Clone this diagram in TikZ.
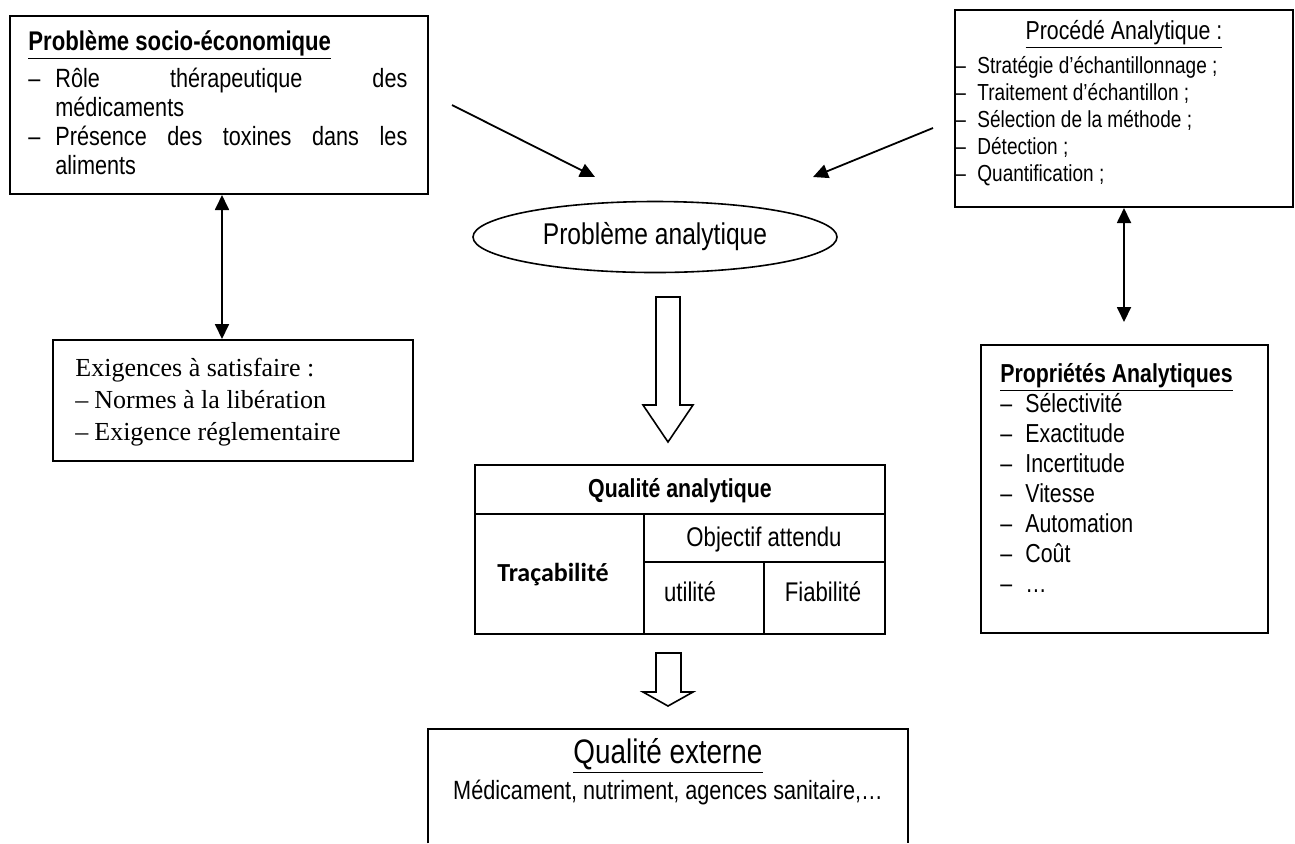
\documentclass[tikz,border=0pt]{standalone}
\usepackage{fontspec}
\setmainfont{Liberation Sans}[FakeStretch=0.82]
\newfontfamily\timesfont{Liberation Serif}
\newfontfamily\calibrifont{Carlito}
\usetikzlibrary{positioning,arrows.meta,calc,shapes.geometric}

\newcommand{\itemdash}[1]{\makebox[#1][l]{–}}

\begin{document}
\begin{tikzpicture}[x=0.5pt, y=-0.5pt,
  box/.style={draw, line width=1pt, inner sep=0pt},
  txt/.style={inner sep=0pt, align=left, anchor=north west},
  cell/.style={inner sep=0pt, font=\fontsize{13.5}{15}\selectfont},
  arrow/.style={-{Triangle[length=7.5pt,width=7pt]}, line width=0.9pt},
  dblarrow/.style={{Triangle[length=7.5pt,width=7pt]}-{Triangle[length=7.5pt,width=7pt]}, line width=0.9pt},
  hollow/.style={draw, line width=0.8pt, fill=white, line join=miter}]

  \useasboundingbox (0,0) rectangle (1295,843);

  % left column
  \node[box, minimum width=209pt, minimum height=89pt] (socio) at (219,105) {};
  \node[txt, font=\fontsize{13.2}{14.5}\selectfont] (sociotxt) at (28,30)
    {{\fontsize{13.5}{14.5}\selectfont\underline{\textbf{Problème socio-économique}}}\\[3pt]
     \itemdash{13.5pt}\makebox[176pt][s]{Rôle thérapeutique des}\\
     \hspace*{13.5pt}médicaments\\
     \itemdash{13.5pt}\makebox[176pt][s]{Présence des toxines dans les}\\
     \hspace*{13.5pt}aliments};
  \node[box, minimum width=180pt, minimum height=60.5pt] (exig) at (233,400.5) {};
  \node[txt, font=\timesfont\fontsize{13}{16}\selectfont] (exigtxt) at (75,358)
    {Exigences à satisfaire :\\
     \itemdash{9.5pt}Normes à la libération\\
     \itemdash{9.5pt}Exigence réglementaire};

  % right column
  \node[box, minimum width=169pt, minimum height=98.5pt] (procede) at (1124,108.5) {};
  \node[anchor=base, inner sep=0pt, font=\fontsize{13}{15}\selectfont] (proctitle) at (1124,39)
    {\underline{Procédé Analytique :}};
  \node[txt, font=\fontsize{11.6}{13.5}\selectfont] (proctxt) at (955,56)
    {\itemdash{11pt}Stratégie d’échantillonnage ;\\
     \itemdash{11pt}Traitement d’échantillon ;\\
     \itemdash{11pt}Sélection de la méthode ;\\
     \itemdash{11pt}Détection ;\\
     \itemdash{11pt}Quantification ;};
  \node[box, minimum width=143.5pt, minimum height=144pt] (propr) at (1124.5,489) {};
  \node[txt, font=\fontsize{13}{15}\selectfont] (proprtxt) at (1000,363)
    {\underline{\textbf{Propriétés Analytiques}}\\
     \itemdash{12.5pt}Sélectivité\\
     \itemdash{12.5pt}Exactitude\\
     \itemdash{12.5pt}Incertitude\\
     \itemdash{12.5pt}Vitesse\\
     \itemdash{12.5pt}Automation\\
     \itemdash{12.5pt}Coût\\
     \itemdash{12.5pt}…};

  % centre
  \node[draw, ellipse, line width=0.8pt, inner sep=0pt, minimum width=182pt,
    minimum height=35.5pt, font=\fontsize{15}{17}\selectfont] (pbana) at (655,237)
    {Problème analytique};

  \coordinate (sociotip) at (452,105);
  \coordinate (analeft) at (595,177);
  \coordinate (proctip) at (933,128);
  \coordinate (anaright) at (813,177);
  \coordinate (propup) at (1124,322);

  \draw[arrow] (sociotip) -- (analeft);
  \draw[arrow] (proctip) -- (anaright);
  \draw[dblarrow] ([xshift=1.5pt]socio.south) -- ([xshift=1.5pt]socio.south |- exig.north);
  \draw[dblarrow] (procede.south) -- (propup);

  \draw[hollow] (656,297) -- (680,297) -- (680,405) -- (693,405) -- (668,442)
    -- (643,405) -- (656,405) -- cycle;

  % quality table
  \draw[line width=1pt] (475,465) rectangle (885,634);
  \draw[line width=1pt] (475,514) -- (885,514) (644,514) -- (644,634)
    (644,562) -- (885,562) (764,562) -- (764,634);
  \node[cell, font=\bfseries\fontsize{13}{15}\selectfont] (qualana) at (680,491) {Qualité analytique};
  \node[cell, font=\calibrifont\bfseries\fontsize{13}{15}\selectfont] (trac) at (553,575) {Traçabilité};
  \node[cell] (objectif) at (764,540) {Objectif attendu};
  \node[cell] (utilite) at (690,592) {utilité};
  \node[cell] (fiab) at (823,592) {Fiabilité};

  \draw[hollow] (656,653) -- (681,653) -- (681,692) -- (693,692) -- (668,706)
    -- (643,692) -- (656,692) -- cycle;

  % external quality
  \node[inner sep=0pt, minimum width=240pt, minimum height=57pt] (externe) at (668,786) {};
  \draw[line width=1pt] (externe.south west) |- (externe.north east) -- (externe.south east);
  \node[font=\fontsize{17}{19}\selectfont] (extitle) at (668,756) {\underline{Qualité externe}};
  \node[font=\fontsize{13.2}{15}\selectfont] (extxt) at (668,792) {Médicament, nutriment, agences sanitaire,…};
\end{tikzpicture}
\end{document}
